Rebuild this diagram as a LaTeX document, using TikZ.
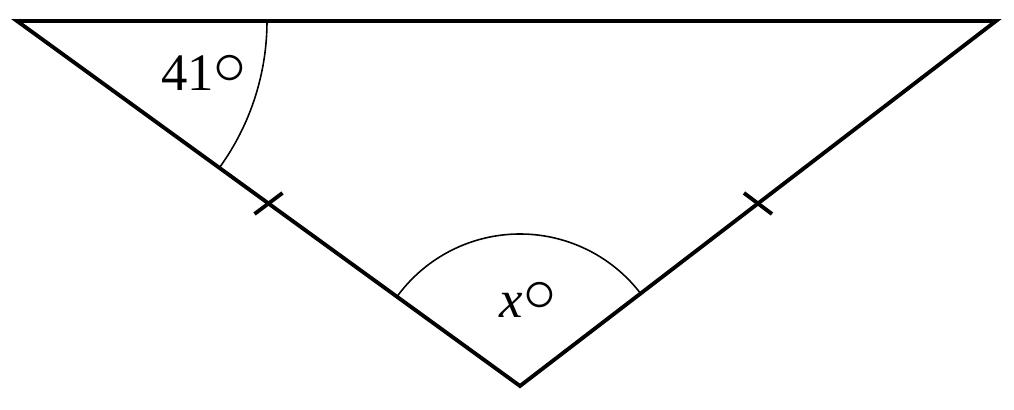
\documentclass[tikz,border=0pt]{standalone}
\usepackage{fontspec}
\setmainfont{Liberation Serif}
\usetikzlibrary{calc}
\newcommand{\degsign}{\raisebox{0.12em}{\scalebox{1.3}{$\circ$}}}
\begin{document}
\begin{tikzpicture}[x=0.01cm,y=0.01cm,line width=1.1pt]
			\tikzset{every node/.style={font=\fontsize{15}{17}\selectfont}}
			\useasboundingbox (0,0) rectangle (1014,410);
			\coordinate (A) at (17,389);
			\coordinate (B) at (996,389);
			\coordinate (C) at (520,24);
			\draw (A)--(B)--(C)--cycle;
			% angle arcs
			\draw[line width=0.45pt] ($(A)+(250,0)$) arc (0:-36:250);
			\draw[line width=0.45pt] ($(C)+(37.5:152)$) arc (37.5:144:152);
			% equal sides
			\coordinate (mL) at ($(A)!0.5!(C)$);
			\coordinate (mR) at ($(B)!0.5!(C)$);
			\draw ($(mL)+(-14,-10.5)$)--($(mL)+(14,10.5)$);
			\draw ($(mR)+(-14,10.5)$)--($(mR)+(14,-10.5)$);
			\node (angA) at (204,337) {41\degsign};
			\node (angC) at (528,110) {\textit{x}\degsign};
		\end{tikzpicture}
\end{document}
